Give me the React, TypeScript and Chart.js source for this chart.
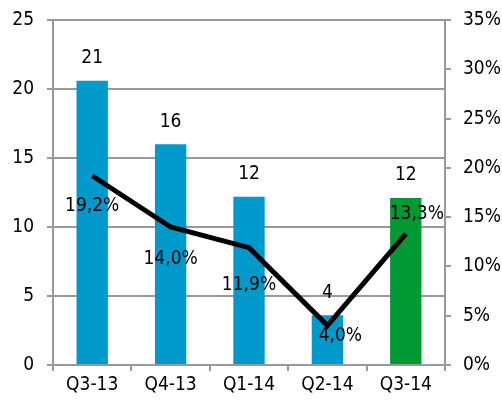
import React, { useEffect, useRef } from "react";
import { Chart, registerables } from "chart.js";

Chart.register(...registerables);

const categories = ["Q3-13", "Q4-13", "Q1-14", "Q2-14", "Q3-14"];
const barValues = [20.6, 16.0, 12.2, 3.6, 12.1];
const barLabels = ["21", "16", "12", "4", "12"];
const pctValues = [19.2, 14.0, 11.9, 4.0, 13.3];
const pctLabels = ["19,2%", "14,0%", "11,9%", "4,0%", "13,3%"];
const barColors = ["#0099cc", "#0099cc", "#0099cc", "#0099cc", "#009933"];
const leftTicks = [0, 5, 10, 15, 20, 25];
const rightTicks = [0, 5, 10, 15, 20, 25, 30, 35];
// label placement tweaks (style only)
const pctLabelDx = [0, 0, 0, 13, 11];
const pctLabelDy = [30, 32, 37, 10, -20];

const FONT = "'DejaVu Sans Condensed', 'DejaVu Sans', sans-serif";
const FS = 19;

const labelPlugin = {
  id: "customLabels",
  afterDatasetsDraw(chart: any) {
    const ctx = chart.ctx;
    ctx.save();
    ctx.font = `${FS}px ${FONT}`;
    ctx.fillStyle = "#000";
    ctx.textAlign = "center";
    const barMeta = chart.getDatasetMeta(1);
    barMeta.data.forEach((el: any, i: number) => {
      ctx.textBaseline = "bottom";
      ctx.fillText(barLabels[i], el.x, el.y - 13);
    });
    const lineMeta = chart.getDatasetMeta(0);
    lineMeta.data.forEach((el: any, i: number) => {
      ctx.textBaseline = "middle";
      ctx.fillText(pctLabels[i], el.x + pctLabelDx[i], el.y + pctLabelDy[i]);
    });
    ctx.restore();
  },
};

export default function App() {
  const ref = useRef<HTMLCanvasElement>(null);
  useEffect(() => {
    if (!ref.current) return;
    const chart = new Chart(ref.current, {
      type: "bar",
      data: {
        labels: categories,
        datasets: [
          {
            type: "line",
            data: pctValues,
            yAxisID: "y1",
            borderColor: "#000",
            borderWidth: 5,
            pointRadius: 0,
            tension: 0,
            order: 0,
          } as any,
          {
            type: "bar",
            data: barValues,
            yAxisID: "y",
            backgroundColor: barColors,
            barPercentage: 0.4,
            categoryPercentage: 1,
            order: 1,
          },
        ],
      },
      options: {
        animation: false,
        responsive: false,
        maintainAspectRatio: false,
        layout: { padding: { top: 20, left: 0, right: 0, bottom: 0 } },
        plugins: { legend: { display: false }, tooltip: { enabled: false } },
        scales: {
          x: {
            grid: {
              display: true,
              drawOnChartArea: false,
              offset: true,
              tickLength: 6,
              color: "#999",
              lineWidth: 2,
            },
            border: { display: true, color: "#999", width: 2 },
            ticks: { color: "#000", font: { family: FONT, size: FS }, padding: 3 },
            afterFit(scale: any) {
              scale.height = 36;
              scale.paddingLeft = 0;
              scale.paddingRight = 0;
            },
          },
          y: {
            position: "left",
            min: 0,
            max: 25,
            afterBuildTicks(scale: any) {
              scale.ticks = leftTicks.map((v) => ({ value: v }));
            },
            grid: { color: "#999", lineWidth: 2, tickLength: 6 },
            border: { display: true, color: "#999", width: 2 },
            ticks: { color: "#000", font: { family: FONT, size: FS }, padding: 13 },
            afterFit(scale: any) {
              scale.width = 53;
              scale.paddingTop = 0;
              scale.paddingBottom = 0;
            },
          },
          y1: {
            position: "right",
            min: 0,
            max: 35,
            afterBuildTicks(scale: any) {
              scale.ticks = rightTicks.map((v) => ({ value: v }));
            },
            grid: { drawOnChartArea: false, color: "#999", lineWidth: 2, tickLength: 6 },
            border: { display: true, color: "#999", width: 2 },
            ticks: {
              color: "#000",
              font: { family: FONT, size: FS },
              padding: 12,
              callback: (v: any) => `${v}%`,
            },
            afterFit(scale: any) {
              scale.width = 57;
              scale.paddingTop = 0;
              scale.paddingBottom = 0;
            },
          },
        },
      },
      plugins: [labelPlugin],
    });
    return () => chart.destroy();
  }, []);
  return (
    <div style={{ position: "fixed", left: 0, top: 0, width: 502, height: 401, background: "#fff" }}>
      <canvas ref={ref} width={502} height={401} style={{ width: 502, height: 401 }} />
    </div>
  );
}
